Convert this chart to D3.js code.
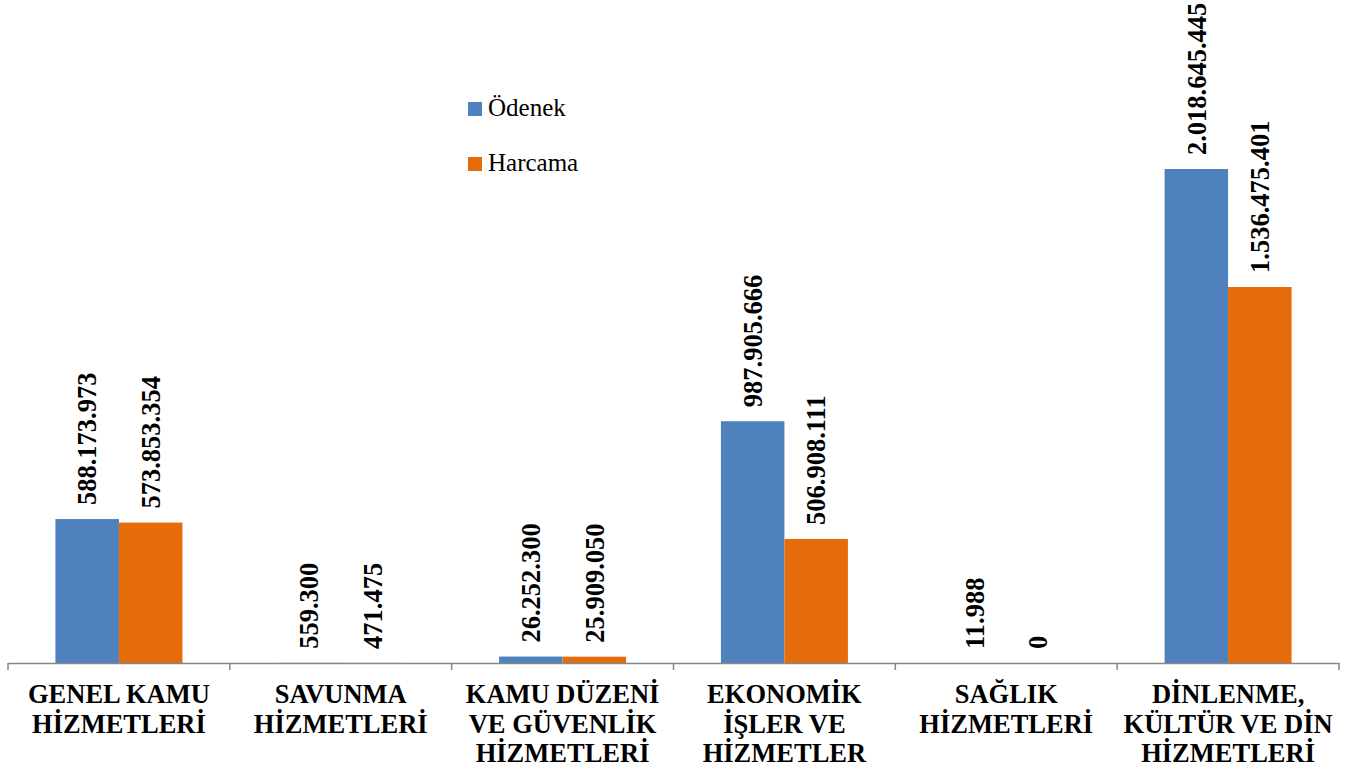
<!DOCTYPE html>
<html><head><meta charset="utf-8">
<script src="https://cdn.jsdelivr.net/npm/d3@7"></script>
<style>body{margin:0;background:#fff;}svg{display:block;}</style>
</head><body>
<svg id="c" width="1360" height="771"></svg>
<script>
const categories = [
  ["GENEL KAMU","HİZMETLERİ"],
  ["SAVUNMA","HİZMETLERİ"],
  ["KAMU DÜZENİ","VE GÜVENLİK","HİZMETLERİ"],
  ["EKONOMİK","İŞLER VE","HİZMETLER"],
  ["SAĞLIK","HİZMETLERİ"],
  ["DİNLENME,","KÜLTÜR VE DİN","HİZMETLERİ"]
];
const seriesNames = ["Ödenek","Harcama"];
const odenek  = [588173973, 559300, 26252300, 987905666, 11988, 2018645445];
const harcama = [573853354, 471475, 25909050, 506908111, 0, 1536475401];
const colors = ["#4F81BD","#E46C0A"];

const FONT = '"Liberation Serif"';
const svg = d3.select("#c");
const x0 = 8, x1 = 1339, yBase = 663;
const x = d3.scaleBand().domain(d3.range(categories.length)).range([x0,x1]).paddingInner(0).paddingOuter(0);
const inner = d3.scaleBand().domain([0,1]).range([0,x.bandwidth()]).paddingInner(0).paddingOuter(0.7467);
const y = d3.scaleLinear().domain([0, 2018645445]).range([yBase, 169]);

const series = [odenek, harcama];
series.forEach((vals, si) => {
  const g = svg.append("g");
  g.selectAll("rect").data(vals).join("rect")
    .attr("x",(d,i)=>x(i)+inner(si))
    .attr("width",inner.bandwidth())
    .attr("y",d=>y(d))
    .attr("height",d=>yBase-y(d))
    .attr("fill",colors[si]);
  g.selectAll("text").data(vals).join("text")
    .attr("transform",(d,i)=>`translate(${x(i)+inner(si)+inner.bandwidth()/2},${y(d)-14}) rotate(-90)`)
    .attr("dy","0.35em")
    .attr("text-anchor","start")
    .style("font-family",FONT).style("font-weight","bold").style("font-size","26.5px")
    .attr("fill","#000")
    .text(d=>d3.format(",")(d).replace(/,/g,"."));
});

// axis
const axis = d3.axisBottom(x).tickValues([]).tickSizeOuter(0);
const ag = svg.append("g").attr("transform",`translate(0,${yBase})`).call(axis);
ag.select(".domain").attr("stroke","#868686").attr("stroke-width",1.5);
const bounds = d3.range(categories.length+1).map(i=> i<categories.length ? x(i) : x1);
ag.selectAll("line.tk").data(bounds).join("line").attr("class","tk")
  .attr("x1",d=>d).attr("x2",d=>d).attr("y1",0).attr("y2",7)
  .attr("stroke","#868686").attr("stroke-width",1.5);

const lab = svg.append("g");
categories.forEach((lines,i)=>{
  const t = lab.append("text")
    .attr("x",x(i)+x.bandwidth()/2).attr("y",703)
    .attr("text-anchor","middle")
    .style("font-family",FONT).style("font-weight","bold").style("font-size","26.5px")
    .attr("fill","#000");
  lines.forEach((l,j)=>t.append("tspan").attr("x",x(i)+x.bandwidth()/2).attr("y",703+j*29.5).text(l));
});

// legend
const lg = svg.append("g");
seriesNames.forEach((n,i)=>{
  lg.append("rect").attr("x",468).attr("y",102+i*55).attr("width",14).attr("height",14).attr("fill",colors[i]);
  lg.append("text").attr("x",488).attr("y",116+i*55)
    .style("font-family",FONT).style("font-size","25px").attr("fill","#000").text(n);
});
</script>
</body></html>
